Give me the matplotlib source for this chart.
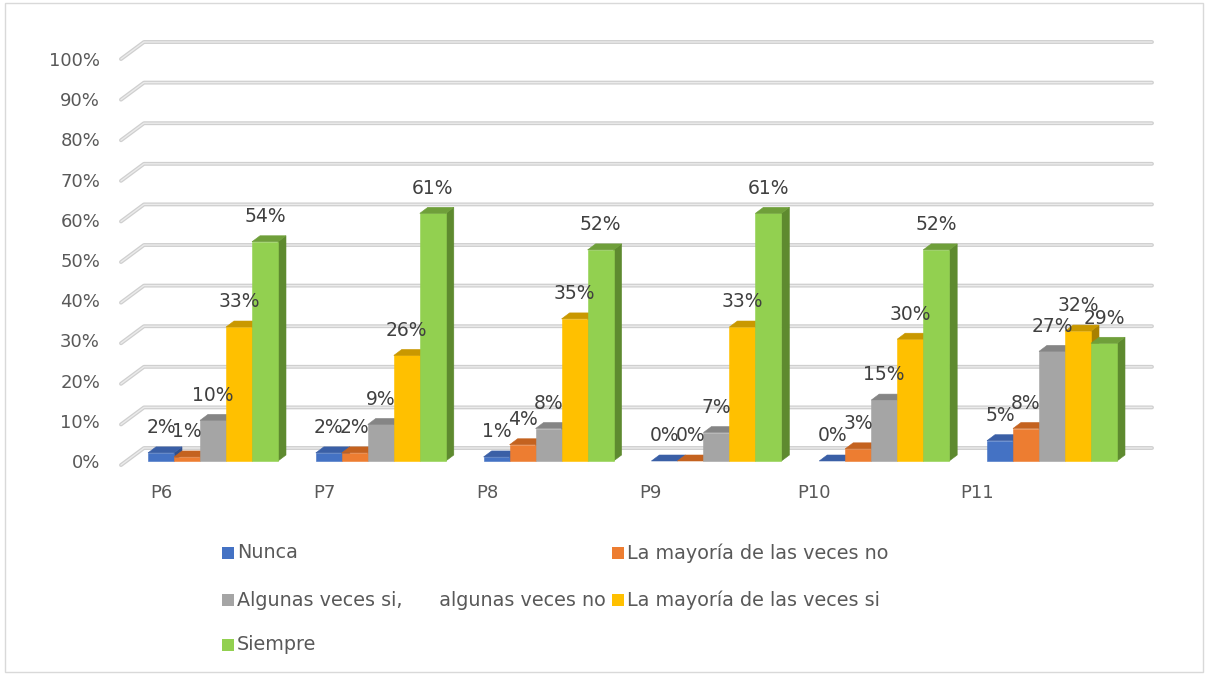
import matplotlib.pyplot as plt
from matplotlib.patches import Polygon, Rectangle

# data
categories = ["P6", "P7", "P8", "P9", "P10", "P11"]
series_names = [
    "Nunca",
    "La mayoría de las veces no",
    "Algunas veces si,      algunas veces no",
    "La mayoría de las veces si",
    "Siempre",
]
nunca = [2, 2, 1, 0, 0, 5]
mayoria_no = [1, 2, 4, 0, 3, 8]
algunas = [10, 9, 8, 7, 15, 27]
mayoria_si = [33, 26, 35, 33, 30, 32]
siempre = [54, 61, 52, 61, 52, 29]
y_ticks = list(range(0, 101, 10))

series = [nunca, mayoria_no, algunas, mayoria_si, siempre]

# colours: front, top, side
front_c = ["#4472C4", "#ED7D31", "#A5A5A5", "#FFC000", "#92D050"]
top_c = ["#3A5FA6", "#C4621F", "#858585", "#C99800", "#6F9F3A"]
side_c = ["#2F4F8C", "#A9531B", "#707070", "#A88000", "#5E8A2F"]

W, H = 1208, 675
fig = plt.figure(figsize=(W / 100, H / 100), dpi=100)
ax = fig.add_axes([0, 0, 1, 1])

# pixel layout: group i starts at px 148 + 167.8*i, 0% front at px 461, 4.06 px per %
px_x0, px_step = 148, 167.8
px_y0, px_per = 461, 4.06
ax.set_xlim(-px_x0 / px_step, (W - px_x0) / px_step)
ax.set_ylim((px_y0 - H) / px_per, px_y0 / px_per)
ax.axis("off")

bar_w = 26 / px_step
dx, dy = 8 / px_step, 6 / px_per

# back wall gridlines
wall_dx, wall_dy = 23 / px_step, 4.2
wall_left, wall_right = -0.161 + wall_dx, (1152 - px_x0) / px_step
for t in y_ticks:
    xs = [-0.161, wall_left, wall_right]
    ys = [t - 1.0, t - 1.0 + wall_dy, t - 1.0 + wall_dy]
    ax.plot(xs, ys, color="#cfcfcf", lw=2.8, solid_capstyle="round",
            solid_joinstyle="round", zorder=1)
    ax.plot(xs, ys, color="#ebebeb", lw=1.0, solid_capstyle="round",
            solid_joinstyle="round", zorder=1.1)
    ax.text(-0.286, t * 0.99 - 0.5, f"{t}%", ha="right", va="center",
            fontsize=13, color="#595959")

# 3D bars
for i, cat in enumerate(categories):
    for j, vals in enumerate(series):
        v = vals[i]
        x0 = i + j * bar_w
        x1 = x0 + bar_w
        z = 2 + i * 0.1 + j * 0.01
        side = Polygon([(x1, 0), (x1 + dx, dy), (x1 + dx, v + dy), (x1, v)],
                       closed=True, fc=side_c[j], ec=side_c[j], lw=0.4, zorder=z)
        topf = Polygon([(x0, v), (x1, v), (x1 + dx, v + dy), (x0 + dx, v + dy)],
                       closed=True, fc=top_c[j], ec=top_c[j], lw=0.4, zorder=z)
        ax.add_patch(side)
        if v > 0:
            ax.add_patch(Rectangle((x0, 0), bar_w, v, fc=front_c[j], ec=front_c[j],
                                   lw=0.4, zorder=z))
        ax.add_patch(topf)
        ax.text(x0 + bar_w / 2, v + 6.2, f"{v}%", ha="center", va="center",
                fontsize=13.5, color="#404040", zorder=10)
    # category label
    ax.text(0.0775 + 0.9726 * i, -7.9, cat, ha="center", va="center",
            fontsize=13, color="#595959")

# legend (manual, figure pixels)
leg_cols = [222, 612]
leg_rows = [553, 600, 645]
leg_pos = [(0, 0), (1, 0), (0, 1), (1, 1), (0, 2)]
for j, name in enumerate(series_names):
    c, r = leg_pos[j]
    lx, ly = leg_cols[c], leg_rows[r]
    fig.patches.append(Rectangle((lx / W, 1 - (ly + 6) / H), 12 / W, 12 / H,
                                 transform=fig.transFigure, fc=front_c[j], ec="none"))
    fig.text((lx + 15) / W, 1 - ly / H, name, ha="left", va="center",
             fontsize=13.8, color="#595959")

# chart border
fig.patches.append(Rectangle((5 / W, 3 / H), (W - 10) / W, (H - 6) / H,
                             transform=fig.transFigure, fill=False,
                             ec="#d9d9d9", lw=1))

fig.savefig("out.png", dpi=100)
